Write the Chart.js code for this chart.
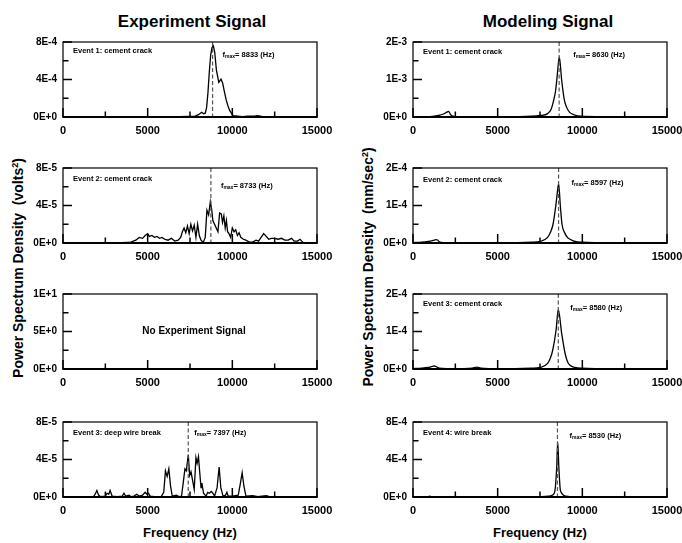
<!DOCTYPE html>
<html>
<head>
<meta charset="utf-8">
<script src="https://cdn.jsdelivr.net/npm/chart.js@4.4.0/dist/chart.umd.min.js"></script>
<style>
  body { margin: 0; width: 682px; height: 543px; background: #fff; position: relative; overflow: hidden;
         font-family: "Liberation Sans", Arial, sans-serif; font-weight: bold; color: #000; }
  canvas { position: absolute; }
  .title { position: absolute; width: 220px; font-size: 17px; line-height: 17px; text-align: center; white-space: nowrap; }
  .xtitle { position: absolute; width: 200px; font-size: 13px; line-height: 13px; text-align: center; white-space: nowrap; }
  .ytitle { position: absolute; width: 280px; height: 16px; font-size: 14px; line-height: 16px; text-align: center;
            white-space: pre; transform: rotate(-90deg); }
  .ytitle sup { font-size: 9px; line-height: 0; vertical-align: 5px; }
</style>
</head>
<body>
<div class="title" style="left:82px;top:13px">Experiment Signal</div>
<div class="title" style="left:438px;top:13px">Modeling Signal</div>
<div class="ytitle" style="left:-122px;top:260px">Power Spectrum Density  (volts<sup>2</sup>)</div>
<div class="ytitle" style="left:228px;top:259px">Power Spectrum Density  (mm/sec<sup>2</sup>)</div>
<div class="xtitle" style="left:90px;top:526px">Frequency (Hz)</div>
<div class="xtitle" style="left:440px;top:526px">Frequency (Hz)</div>
<script>
// ---- data (frequency in Hz, PSD in panel units) ----
const xMajorTicks = [0, 5000, 10000, 15000];
const xMinorTicks = [2500, 7500, 12500];

// Experiment, event 1 (x1E-4 volts^2)
const expFreq1 = [0, 6500, 7800, 8000, 8190, 8300, 8400, 8480, 8560, 8640, 8720, 8800, 8880, 8960, 9060, 9200,
                  9330, 9430, 9530, 9640, 9740, 9840, 10040, 10600, 10900, 11300, 11500, 11800, 12500, 15000];
const expPsd1 = [0, 0, 0.1, 0.25, 0.5, 0.35, 0.4, 1.0, 2.6, 4.8, 6.6, 7.4, 7.6, 6.9, 5.0, 3.7,
                 4.05, 3.6, 2.7, 1.8, 1.2, 0.7, 0.15, 0.05, 0.1, 0.1, 0.15, 0.05, 0.02, 0];

// Experiment, event 2 (x1E-5 volts^2)
const expFreq2 = [0, 3500, 4000, 4300, 4500, 4700, 4850, 5000, 5100, 5250, 5400, 5550, 5700, 5850, 6000, 6200,
                  6400, 6600, 6800, 6950, 7050, 7150, 7250, 7350, 7450, 7550, 7650, 7750, 7850, 7950, 8050, 8150,
                  8280, 8400, 8500, 8600, 8700, 8780, 8850, 8950, 9050, 9150, 9250, 9350, 9420, 9500, 9580, 9650,
                  9720, 9800, 9900, 10000, 10100, 10200, 10300, 10400, 10500, 10650, 10800, 11000, 11200, 11400,
                  11550, 11700, 11850, 12000, 12150, 12300, 12500, 12700, 12900, 13100, 13300, 13500, 13650, 13850,
                  14000, 14150, 14300, 15000];
const expPsd2 = [0, 0.05, 0.1, 0.3, 0.6, 0.5, 0.8, 1.0, 0.7, 0.8, 0.6, 0.7, 0.5, 0.6, 0.4, 0.3,
                 0.5, 0.2, 0.3, 0.6, 1.2, 1.6, 1.1, 1.8, 1.0, 2.0, 1.3, 1.9, 0.6, 2.0, 0.8, 0.3,
                 0.05, 0.6, 3.5, 3.0, 4.4, 3.6, 2.4, 2.0, 1.6, 1.2, 3.2, 3.1, 2.2, 2.9, 1.6, 2.4,
                 1.2, 1.0, 0.6, 1.6, 1.2, 1.4, 0.8, 1.1, 0.6, 0.4, 0.3, 0.1, 0.1, 0.3,
                 0.2, 0.6, 1.0, 0.7, 0.4, 0.5, 0.5, 0.4, 0.5, 0.3, 0.3, 0.5, 0.2, 0.2,
                 0.4, 0.1, 0, 0];

// Experiment, event 3 deep wire break (x1E-5 volts^2)
const expFreq3 = [0, 1800, 1900, 2000, 2100, 2200, 2500, 2600, 2700, 2780, 2900, 3200, 3500, 3600, 3700, 3900,
                  4000, 4200, 4350, 4500, 4700, 4850, 4950, 5050, 5150, 5400, 5800, 5950, 6050, 6150, 6250, 6350,
                  6450, 6700, 6850, 7000, 7100, 7200, 7280, 7400, 7480, 7560, 7650, 7750, 7850, 7920, 8000, 8080,
                  8150, 8200, 8300, 8450, 8550, 8650, 8750, 8850, 8950, 9100, 9220, 9320, 9450, 9600, 9680, 9750,
                  10000, 10350, 10480, 10580, 10680, 10800, 11200, 11500, 12000, 12200, 15000];
const expPsd3 = [0, 0.05, 0.3, 0.7, 0.2, 0.05, 0.1, 0.4, 0.3, 0.7, 0.1, 0.05, 0.1, 0.4, 0.1, 0.2,
                 0.05, 0.1, 0.3, 0.1, 0.2, 0.5, 0.3, 0.4, 0.1, 0.05, 0.05, 0.5, 2.8, 2.2, 3.0, 1.2,
                 0.1, 0.2, 0.05, 0.1, 1.5, 3.0, 2.8, 4.5, 2.3, 2.7, 1.8, 0.8, 4.2, 3.6, 4.3, 2.5,
                 1.0, 1.5, 0.4, 0.1, 0.5, 0.4, 0.6, 0.4, 0.1, 1.0, 3.2, 1.0, 0.1, 0.2, 0.5, 0.1,
                 0.1, 0.2, 1.5, 2.6, 1.2, 0.1, 0.15, 0.05, 0.15, 0.05, 0];

// Modeling, event 1 (x1E-3 mm/sec^2)
const modFreq1 = [0, 1000, 1500, 1800, 2000, 2100, 2200, 2300, 2600, 4000, 6000, 7000, 7500, 7955, 8150, 8310,
                  8420, 8510, 8640, 8780, 8940, 9080, 9240, 9500, 9730, 10200, 11000, 15000];
const modPsd1 = [0, 0.01, 0.04, 0.08, 0.13, 0.15, 0.08, 0.03, 0.01, 0.005, 0.01, 0.02, 0.04, 0.09, 0.2, 0.45,
                 0.7, 1.07, 1.6, 0.98, 0.45, 0.25, 0.13, 0.06, 0.03, 0.015, 0.01, 0];

// Modeling, event 2 (x1E-4 mm/sec^2)
const modFreq2 = [0, 500, 900, 1200, 1350, 1450, 1550, 1800, 3000, 3500, 4000, 6000, 7000, 7500, 7950, 8130,
                  8270, 8420, 8500, 8600, 8700, 8800, 8980, 9120, 9270, 9570, 10000, 11000, 15000];
const modPsd2 = [0.01, 0.02, 0.04, 0.07, 0.09, 0.08, 0.03, 0.01, 0.005, 0.01, 0.005, 0.01, 0.02, 0.04, 0.15, 0.3,
                 0.5, 0.95, 1.25, 1.58, 1.0, 0.5, 0.25, 0.15, 0.1, 0.04, 0.02, 0.01, 0];

// Modeling, event 3 (x1E-4 mm/sec^2)
const modFreq3 = [0, 500, 900, 1150, 1260, 1380, 1550, 2000, 3000, 3500, 3780, 4000, 4500, 6000, 7000, 7500,
                  7950, 8120, 8250, 8450, 8580, 8780, 8980, 9120, 9270, 9570, 10000, 11000, 15000];
const modPsd3 = [0.01, 0.02, 0.04, 0.07, 0.08, 0.06, 0.02, 0.01, 0.01, 0.02, 0.05, 0.02, 0.01, 0.01, 0.02, 0.04,
                 0.15, 0.3, 0.5, 1.04, 1.59, 0.95, 0.42, 0.2, 0.1, 0.04, 0.02, 0.01, 0];

// Modeling, event 4 wire break (x1E-4 mm/sec^2)
const modFreq4 = [0, 800, 1000, 1150, 3000, 6000, 7500, 8000, 8270, 8360, 8410, 8490, 8545, 8610, 8690, 8750,
                  8850, 9200, 10000, 15000];
const modPsd4 = [0, 0.02, 0.08, 0.02, 0.01, 0.01, 0.03, 0.08, 0.25, 0.5, 1.1, 3.3, 5.9, 3.3, 0.9, 0.5,
                 0.25, 0.05, 0.02, 0];

const panels = [
  { col: 0, row: 0, freq: expFreq1, psd: expPsd1, unit: 1e-4, yTicks: [0, 4e-4, 8e-4],
    yLabels: ['0E+0', '4E-4', '8E-4'], event: 'Event 1: cement crack', fmax: 8833 },
  { col: 0, row: 1, freq: expFreq2, psd: expPsd2, unit: 1e-5, yTicks: [0, 4e-5, 8e-5],
    yLabels: ['0E+0', '4E-5', '8E-5'], event: 'Event 2: cement crack', fmax: 8733 },
  { col: 0, row: 2, freq: [], psd: [], unit: 1, yTicks: [0, 5, 10],
    yLabels: ['0E+0', '5E+0', '1E+1'], note: 'No Experiment Signal' },
  { col: 0, row: 3, freq: expFreq3, psd: expPsd3, unit: 1e-5, yTicks: [0, 4e-5, 8e-5],
    yLabels: ['0E+0', '4E-5', '8E-5'], event: 'Event 3: deep wire break', fmax: 7397 },
  { col: 1, row: 0, freq: modFreq1, psd: modPsd1, unit: 1e-3, yTicks: [0, 1e-3, 2e-3],
    yLabels: ['0E+0', '1E-3', '2E-3'], event: 'Event 1: cement crack', fmax: 8630, smooth: true },
  { col: 1, row: 1, freq: modFreq2, psd: modPsd2, unit: 1e-4, yTicks: [0, 1e-4, 2e-4],
    yLabels: ['0E+0', '1E-4', '2E-4'], event: 'Event 2: cement crack', fmax: 8597, smooth: true },
  { col: 1, row: 2, freq: modFreq3, psd: modPsd3, unit: 1e-4, yTicks: [0, 1e-4, 2e-4],
    yLabels: ['0E+0', '1E-4', '2E-4'], event: 'Event 3: cement crack', fmax: 8580, smooth: true },
  { col: 1, row: 3, freq: modFreq4, psd: modPsd4, unit: 1e-4, yTicks: [0, 4e-4, 8e-4],
    yLabels: ['0E+0', '4E-4', '8E-4'], event: 'Event 4: wire break', fmax: 8530, smooth: true },
];

// ---- layout ----
const colLeft = [63, 413];
const rowTop = [42, 168, 294, 422];
const plotW = 254, plotH = 75;
const padL = 58, padT = 12, padR = 26, padB = 24;
// label offsets [fmax dx, fmax dy, event dy] per panel
const labelPos = [[10, 13, 9], [10, 17.5, 11], [0, 0, 0], [6, 11, 10.5],
                  [14, 13, 9.5], [13, 14.5, 12], [12, 14, 10], [12, 13.5, 10.5]];
const FONT = '"Liberation Sans", Arial, sans-serif';

const panelDecor = {
  id: 'panelDecor',
  afterDatasetsDraw(chart, args, opts) {
    const { ctx, chartArea: a, scales: { x, y } } = chart;
    const seg = (x1, y1, x2, y2) => { ctx.beginPath(); ctx.moveTo(x1, y1); ctx.lineTo(x2, y2); ctx.stroke(); };
    ctx.save();
    ctx.strokeStyle = '#000';

    // fmax marker
    if (opts.fmax) {
      const px = x.getPixelForValue(opts.fmax);
      ctx.save();
      ctx.strokeStyle = '#555';
      ctx.lineWidth = 1.2;
      ctx.setLineDash([4, 2.5]);
      seg(px, a.top, px, a.bottom);
      ctx.restore();

      let tx = px + opts.pos[0];
      const ty = a.top + opts.pos[1];
      ctx.fillStyle = '#000';
      ctx.textBaseline = 'middle';
      ctx.font = 'bold 7.5px ' + FONT;
      ctx.fillText('f', tx, ty);
      tx += ctx.measureText('f').width;
      ctx.font = 'bold 5px ' + FONT;
      ctx.fillText('max', tx, ty + 2);
      tx += ctx.measureText('max').width;
      ctx.font = 'bold 7.5px ' + FONT;
      ctx.fillText('= ' + opts.fmax + ' (Hz)', tx, ty);
    }
    if (opts.event) {
      ctx.fillStyle = '#000';
      ctx.textBaseline = 'middle';
      ctx.font = 'bold 7.5px ' + FONT;
      ctx.fillText(opts.event, a.left + 10, a.top + opts.pos[2]);
    }
    if (opts.note) {
      ctx.fillStyle = '#000';
      ctx.textBaseline = 'middle';
      ctx.textAlign = 'center';
      ctx.font = 'bold 10px ' + FONT;
      ctx.fillText(opts.note, (a.left + a.right) / 2 + 4, (a.top + a.bottom) / 2);
      ctx.textAlign = 'left';
    }

    // inward ticks
    ctx.lineWidth = 1.5;
    xMajorTicks.forEach(v => { const px = x.getPixelForValue(v); seg(px, a.bottom, px, a.bottom - 9); });
    xMinorTicks.forEach(v => { const px = x.getPixelForValue(v); seg(px, a.bottom, px, a.bottom - 5.5); });
    const yt = opts.yTicks;
    const yMax = yt[yt.length - 1];
    yt.forEach(v => { const py = y.getPixelForValue(v); seg(a.left, py, a.left + 9, py); });
    [yMax / 4, yMax * 3 / 4].forEach(v => { const py = y.getPixelForValue(v); seg(a.left, py, a.left + 5.5, py); });

    // frame
    ctx.lineWidth = 1.2;
    ctx.strokeRect(a.left, a.top, a.right - a.left, a.bottom - a.top);
    ctx.lineWidth = 1.8;
    seg(a.left - 0.5, a.bottom, a.right + 0.5, a.bottom);
    ctx.restore();
  }
};

panels.forEach((p, i) => {
  const canvas = document.createElement('canvas');
  const w = plotW + padL + padR, h = plotH + padT + padB;
  canvas.width = w;
  canvas.height = h;
  canvas.style.left = (colLeft[p.col] - padL) + 'px';
  canvas.style.top = (rowTop[p.row] - padT) + 'px';
  canvas.style.width = w + 'px';
  canvas.style.height = h + 'px';
  document.body.appendChild(canvas);

  const points = p.freq.map((f, k) => ({ x: f, y: p.psd[k] * p.unit }));
  const yMax = p.yTicks[p.yTicks.length - 1];

  new Chart(canvas.getContext('2d'), {
    type: 'line',
    data: {
      datasets: points.length ? [{
        data: points,
        borderColor: '#000',
        borderWidth: 1.3,
        pointRadius: 0,
        fill: false,
        tension: 0,
        cubicInterpolationMode: p.smooth ? 'monotone' : 'default'
      }] : []
    },
    options: {
      responsive: false,
      animation: false,
      devicePixelRatio: 1,
      layout: { padding: { left: 0, top: padT, right: padR, bottom: 0 } },
      plugins: {
        legend: { display: false },
        tooltip: { enabled: false },
        panelDecor: { fmax: p.fmax, event: p.event, note: p.note, yTicks: p.yTicks, pos: labelPos[i] }
      },
      scales: {
        x: {
          type: 'linear',
          min: 0,
          max: 15000,
          grid: { display: false, drawTicks: false },
          border: { display: false },
          afterBuildTicks: s => { s.ticks = xMajorTicks.map(v => ({ value: v })); },
          afterFit: s => { s.height = padB; },
          ticks: {
            color: '#000',
            padding: 7,
            maxRotation: 0,
            font: { family: FONT, size: 11, weight: 'bold' },
            callback: v => String(v)
          }
        },
        y: {
          type: 'linear',
          min: 0,
          max: yMax,
          grid: { display: false, drawTicks: false },
          border: { display: false },
          afterBuildTicks: s => { s.ticks = p.yTicks.map(v => ({ value: v })); },
          afterFit: s => { s.width = padL; },
          ticks: {
            color: '#000',
            padding: 6,
            font: { family: FONT, size: 10, weight: 'bold' },
            callback: (v, k) => p.yLabels[k]
          }
        }
      }
    },
    plugins: [panelDecor]
  });
});
</script>
</body>
</html>
